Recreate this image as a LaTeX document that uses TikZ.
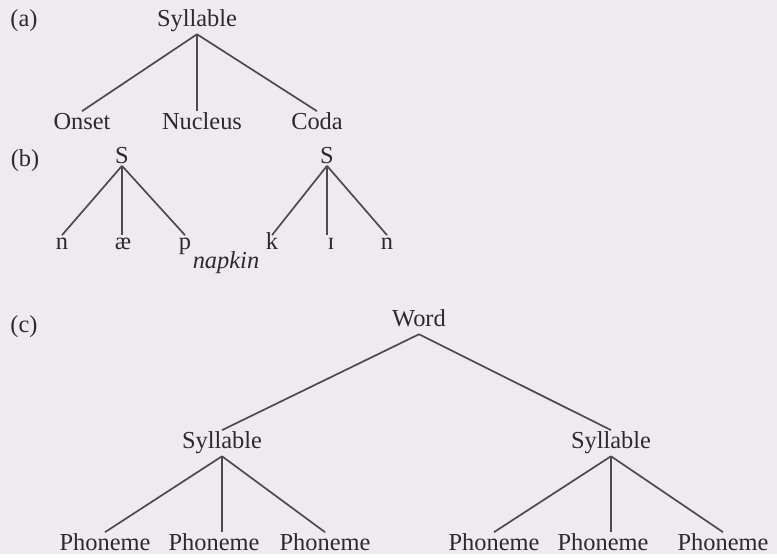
\documentclass[tikz,border=0pt]{standalone}
\usepackage{fontspec}
\setmainfont{Liberation Serif}
\definecolor{paper}{RGB}{238,235,238}
\definecolor{ink}{RGB}{44,42,46}
\begin{document}
\begin{tikzpicture}[x=0.5pt, y=-0.5pt, line width=0.85pt,
  font=\fontsize{12.2pt}{14pt}\selectfont,
  edge/.style={draw=ink!85},
  lbl/.style={anchor=base, inner sep=1.5pt, text height=0.7em, text depth=0.22em, text=ink},
  seg/.style={anchor=base, inner sep=1pt, text height=1.2ex, text depth=0pt, text=ink},
  tag/.style={anchor=base, inner sep=0pt, text=ink}]
  \fill[paper] (0,0) rectangle (777,554);
  % (a) parts of the syllable
  \node[tag] (ta) at (24,26) {(a)};
  \node[lbl] (syl) at (197,26) {Syllable};
  \node[lbl] (ons) at (82,129) {Onset};
  \node[lbl] (nuc) at (202,129) {Nucleus};
  \node[lbl] (cod) at (317,129) {Coda};
  \draw[edge] (syl.south) -- (ons.north);
  \draw[edge] (syl.south) -- (syl.south |- nuc.north);
  \draw[edge] (syl.south) -- (cod.north);
  % (b) napkin
  \node[tag] (tb) at (25,166) {(b)};
  \node[seg] (s1) at (122,163) {S};
  \node[seg] (s2) at (327,163) {S};
  \node[seg] (n1) at (62,249) {n};
  \node[seg] (ae) at (123,249) {æ};
  \node[seg] (p)  at (185,249) {p};
  \node[seg] (k)  at (272,249) {k};
  \node[seg] (ih) at (331,249) {ɪ};
  \node[seg] (n2) at (387,249) {n};
  \node[tag] (nap) at (226,268) {\itshape napkin};
  \draw[edge] (s1.south) -- (n1.north);
  \draw[edge] (s1.south) -- (s1.south |- ae.north);
  \draw[edge] (s1.south) -- (p.north);
  \draw[edge] (s2.south) -- (k.north);
  \draw[edge] (s2.south) -- (s2.south |- ih.north);
  \draw[edge] (s2.south) -- (n2.north);
  % (c) word, syllables, phonemes
  \node[tag] (tc) at (24,332) {(c)};
  \node[lbl] (wrd) at (419,326) {Word};
  \node[lbl] (sa) at (222,448) {Syllable};
  \node[lbl] (sb) at (611,448) {Syllable};
  \node[lbl] (pa1) at (105,550) {Phoneme};
  \node[lbl] (pa2) at (214,550) {Phoneme};
  \node[lbl] (pa3) at (325,550) {Phoneme};
  \node[lbl] (pb1) at (494,550) {Phoneme};
  \node[lbl] (pb2) at (603,550) {Phoneme};
  \node[lbl] (pb3) at (723,550) {Phoneme};
  \draw[edge] (wrd.south) -- (sa.north);
  \draw[edge] (wrd.south) -- (sb.north);
  \draw[edge] (sa.south) -- (pa1.north);
  \draw[edge] (sa.south) -- (sa.south |- pa2.north);
  \draw[edge] (sa.south) -- (pa3.north);
  \draw[edge] (sb.south) -- (pb1.north);
  \draw[edge] (sb.south) -- (sb.south |- pb2.north);
  \draw[edge] (sb.south) -- (pb3.north);
\end{tikzpicture}
\end{document}
